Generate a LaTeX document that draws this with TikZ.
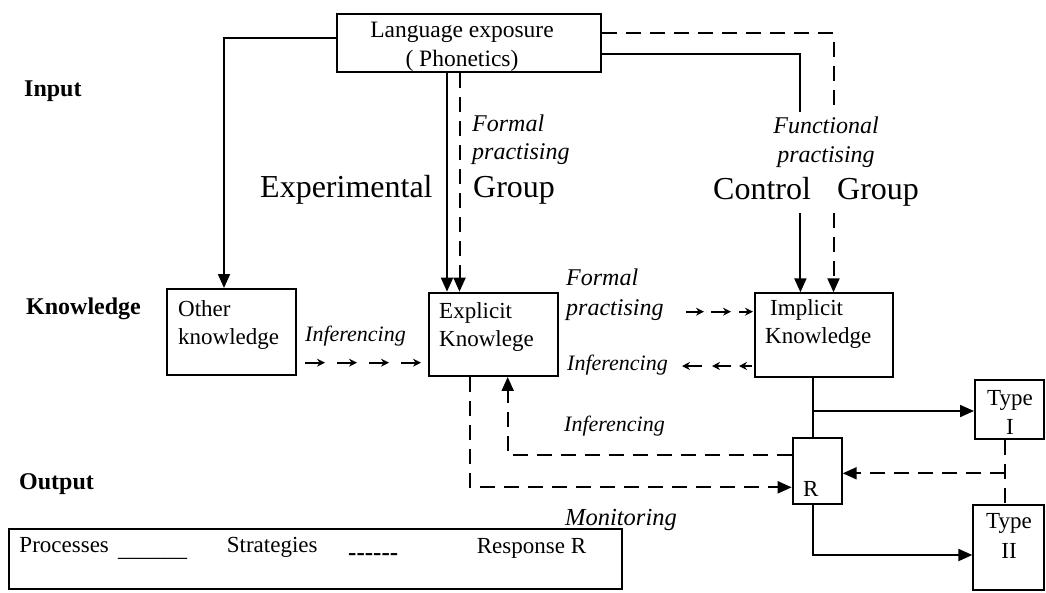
\documentclass[tikz,border=0pt]{standalone}
\usepackage{fontspec}
\setmainfont{Liberation Serif}
\usetikzlibrary{arrows.meta,calc}
\begin{document}
\begin{tikzpicture}[x=1pt,y=-1pt,
  box/.style={draw, line width=2pt, inner sep=0pt},
  proc/.style={line width=2pt},
  strat/.style={line width=2pt, dash pattern=on 15pt off 9pt},
  arr/.style={-{Triangle[length=14pt,width=12pt]}},
  small/.style={line width=2pt, -{Stealth[length=8pt,width=8pt]}},
  btxt/.style={inner sep=0pt, font=\fontsize{23}{27.5}\selectfont},
  bigtxt/.style={inner sep=0pt, font=\fontsize{32}{36}\selectfont},
  itxt/.style={inner sep=0pt, font=\fontsize{24}{28}\selectfont\itshape},
  inftxt/.style={inner sep=0pt, font=\fontsize{22}{26}\selectfont\itshape},
  lev/.style={inner sep=0pt, font=\fontsize{24}{28}\selectfont\bfseries},
]
\useasboundingbox (0,0) rectangle (1046,592);

% level labels
\node[lev, anchor=base west] (input) at (24,96) {Input};
\node[lev, anchor=base west] (knowl) at (26,314) {Knowledge};
\node[lev, anchor=base west] (output) at (19,489) {Output};

% boxes
\node[box, minimum width=264pt, minimum height=58pt] (lang) at (469,43) {};
\node[btxt, align=center, anchor=north, font=\fontsize{23.5}{29}\selectfont] (langT) at (462,21.5) {Language exposure\\( Phonetics)};

\node[box, minimum width=129pt, minimum height=86pt] (other) at (231.5,332) {};
\node[btxt, align=left, anchor=north west] (otherT) at (178,300.5) {Other\\knowledge};

\node[box, minimum width=128.4pt, minimum height=83.3pt] (explicit) at (493.5,334.3) {};
\node[btxt, align=left, anchor=north west] (explicitT) at (439,302.5) {Explicit\\Knowlege};

\node[box, minimum width=137.6pt, minimum height=84pt] (implicit) at (823.8,335.3) {};
\node[btxt, align=left, anchor=north west] (implicitT) at (765,299.5) {\hspace*{5pt}Implicit\\Knowledge};

\node[box, minimum width=69pt, minimum height=59.3pt] (typeI) at (1009.5,409.7) {};
\node[btxt, align=center, anchor=north, font=\fontsize{23}{29}\selectfont] (typeIT) at (1010,390) {Type\\I};

\node[box, minimum width=70.7pt, minimum height=85pt] (typeII) at (1008.7,547.5) {};
\node[btxt, align=center, anchor=north, font=\fontsize{23}{30}\selectfont] (typeIIT) at (1009,513) {Type\\II};

\node[box, minimum width=49pt, minimum height=66.3pt] (R) at (817.2,470.9) {};
\node[btxt, anchor=base west] (RT) at (803,496.7) {R};

% legend
\node[box, minimum width=612.4pt, minimum height=60pt] (legend) at (315.5,559) {};
\node[btxt, anchor=base west] (lp) at (19.3,552.3) {Processes};
\node[btxt, anchor=base west] (lpl) at (118,556) {\_\_\_\_\_\_};
\node[btxt, anchor=base west] (ls) at (226.7,552.3) {Strategies};
\node[btxt, anchor=base west, font=\fontsize{25}{27}\selectfont\bfseries] (lsl) at (348,560) {-{}-{}-{}-{}-{}-};
\node[btxt, anchor=base west] (lr) at (476.7,553.5) {Response R};

% group labels
\node[bigtxt, anchor=base west] (exper) at (260,197) {Experimental};
\node[bigtxt, anchor=base west] (group1) at (473,197) {Group};
\node[bigtxt, anchor=base west] (control) at (713,199) {Control};
\node[bigtxt, anchor=base west] (group2) at (837,199) {Group};

\node[itxt, align=left, anchor=north west, font=\fontsize{24}{28}\selectfont\itshape] (fp1) at (472,115) {Formal\\practising};
\node[itxt, align=center, anchor=north, font=\fontsize{24}{29}\selectfont\itshape] (fun) at (826,116.6) {Functional\\practising};
\node[itxt, align=left, anchor=north west, font=\fontsize{24}{30}\selectfont\itshape] (fp2) at (566,268.6) {Formal\\practising};
\node[inftxt, anchor=base west] (inf1) at (305,341.7) {Inferencing};
\node[inftxt, anchor=base west] (inf2) at (567,370) {Inferencing};
\node[inftxt, anchor=base west] (inf3) at (564,431.7) {Inferencing};
\node[itxt, anchor=base west, font=\fontsize{24.5}{28}\selectfont\itshape] (moni) at (565,525) {Monitoring};

% coordinates
\coordinate (c1) at (224,38);
\coordinate (c2) at (447,0);
\coordinate (c3) at (459.5,0);
\coordinate (c4a) at (800.4,111.5);
\coordinate (c4b) at (800.4,213);
\coordinate (c5a) at (833.5,105);
\coordinate (c5b) at (833.5,213);
\coordinate (c6) at (812.7,411);
\coordinate (c7) at (812.7,555);
\coordinate (c8) at (1005,473.3);
\coordinate (c9) at (470,487.3);
\coordinate (c10) at (507.7,455);

% processes (solid)
\draw[proc, arr] (lang.west |- c1) -| (other.north -| c1);
\draw[proc, arr] (lang.south -| c2) -- (explicit.north -| c2);
\draw[proc, arr] (lang.east |- 0,54) -| (c4a) (c4b) -- (implicit.north -| c4b);
\draw[proc] (implicit.south -| c6) -- (R.north -| c6);
\draw[proc, arr] (c6) -- (typeI.west |- c6);
\draw[proc, arr] (R.south -| c7) |- (typeII.west |- c7);

% strategies (dashed)
\draw[strat, arr] (lang.south -| c3) -- (explicit.north -| c3);
\draw[strat, arr] (lang.east |- 0,33) -| (c5a) (c5b) -- (implicit.north -| c5b);
\draw[strat] (typeI.south -| c8) -- (typeII.north -| c8);
\draw[strat, arr] (c8) -- (R.east |- c8);
\draw[strat, arr] (explicit.south -| c9) |- (R.west |- c9);
\draw[strat, arr] (R.west |- c10) -| (explicit.south -| c10);

% inferencing chain: other -> explicit
\coordinate (ia) at (other.east |- 0,362.7);
\foreach \s in {8,40,72,104} \draw[small] ($(ia)+(\s,0)$) -- ++(20,0);
% formal practising chain: explicit -> implicit
\coordinate (fa) at (implicit.west |- 0,311.7);
\foreach \s/\e in {-68/-50,-43/-23,-15/-1} \draw[small] ($(fa)+(\s,0)$) -- ($(fa)+(\e,0)$);
% inferencing chain: implicit -> explicit
\coordinate (ba) at (implicit.west |- 0,366);
\foreach \s/\e in {-52/-72,-23/-42,-2/-15} \draw[small] ($(ba)+(\s,0)$) -- ($(ba)+(\e,0)$);
\end{tikzpicture}
\end{document}
